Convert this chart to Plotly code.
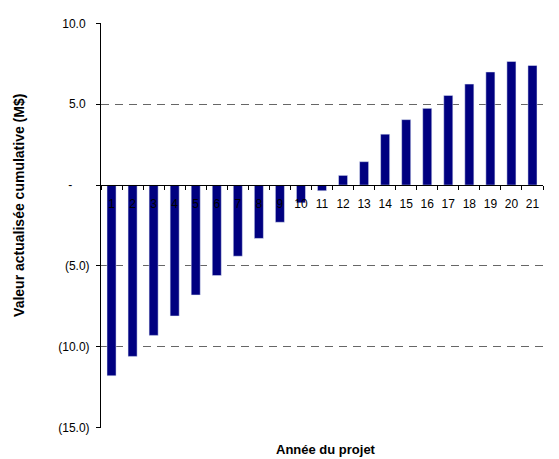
import plotly.graph_objects as go

years = [str(i) for i in range(1, 22)]
cumul = [-11.8, -10.6, -9.3, -8.1, -6.8, -5.6, -4.4, -3.3, -2.3, -1.1, -0.35,
         0.6, 1.45, 3.15, 4.05, 4.75, 5.55, 6.25, 7.0, 7.65, 7.4]
yticks = [-15, -10, -5, 0, 5, 10]
ytext = ["(15.0)", "(10.0)", "(5.0)", "-", "5.0", "10.0"]

# accounting-style alignment: invisible padding after the label
pad = {"-": "00)", "5.0": ")", "10.0": ")"}
hidden = '<span style="color:rgba(0,0,0,0)">{}</span>'
ylabels = [t + hidden.format(pad[t]) if t in pad else t for t in ytext]

fig = go.Figure()
fig.add_trace(go.Bar(x=years, y=cumul, marker_color="#000080", width=0.43))

# page body adds ~8px offset, so the figure is a bit smaller
fig.update_layout(
    width=551, height=451,
    margin=dict(l=93, r=16, t=15, b=31),
    plot_bgcolor="white", paper_bgcolor="white",
    font=dict(family="Liberation Sans, Arial", size=12, color="black"),
    showlegend=False,
)
fig.update_xaxes(
    type="category", anchor="free", position=0.6, automargin=False,
    showline=True, linecolor="black", linewidth=1, tickangle=0,
    ticks="outside", tickson="boundaries", ticklen=4, tickcolor="black",
    showgrid=False, tickfont=dict(size=12), ticklabelstandoff=8,
)
fig.update_yaxes(
    range=[-15.03, 10.03], tickvals=yticks, ticktext=ylabels, automargin=False,
    showline=True, linecolor="black", linewidth=1,
    ticks="outside", ticklen=4, tickcolor="black",
    showgrid=True, gridcolor="#666666", griddash="8px,6px", gridwidth=1,
    zeroline=True, zerolinecolor="black", zerolinewidth=1,
    ticklabelstandoff=4,
)
fig.add_annotation(text="<b>Valeur actualisée cumulative (M$)</b>", textangle=-90,
                   xref="paper", yref="paper", x=-0.184, y=0.55, xanchor="center",
                   showarrow=False, font=dict(size=14))
fig.add_annotation(text="<b>Année du projet</b>", xref="paper", yref="paper",
                   x=0.51, y=-0.03, yanchor="top", showarrow=False,
                   font=dict(size=13))

fig.write_html("out.html")
